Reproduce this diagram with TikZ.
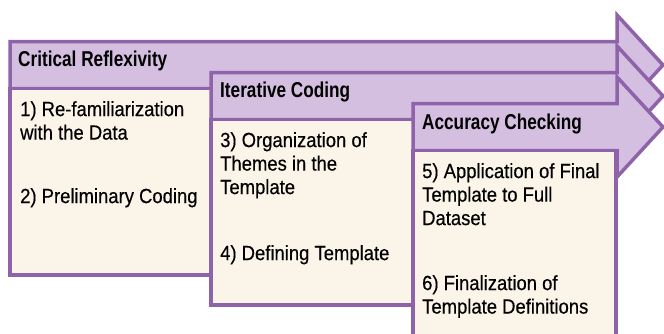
\documentclass[tikz,border=0pt]{standalone}
\usepackage{fontspec}
\setmainfont{Liberation Sans}[FakeStretch=0.9, FakeBold=0.4]
\newfontfamily\headfont{Liberation Sans}[FakeStretch=0.8]
\definecolor{stagepurple}{HTML}{8E63AA}
\definecolor{headlilac}{HTML}{D5BFE1}
\definecolor{notecream}{HTML}{FBF4E9}

\begin{document}
\begin{tikzpicture}[x=1pt, y=-1pt,
		stage/.style = {draw=stagepurple, fill=headlilac, line width=3.5pt, line join=miter},
		notes/.style = {draw=stagepurple, fill=notecream, line width=3.5pt},
		head/.style = {anchor=west, inner sep=0pt, font=\headfont\bfseries\fontsize{21.5}{24}\selectfont},
		item/.style = {anchor=north west, inner sep=0pt, align=left, font=\fontsize{20.5}{23.5}\selectfont}]
			\useasboundingbox (0,0) rectangle (664,333);

			% each stage: arrow on top, notes box under it
			\foreach \x/\c/\b in {10/65/275, 211/96/305, 413/127/345} {
				\draw[stage] (\x,\c-23.5) -- (617,\c-23.5) -- (617,\c-50) -- (663,\c)
					-- (617,\c+50) -- (617,\c+23.5) -- (\x,\c+23.5) -- cycle;
				\draw[notes] (\x,\c+23.5) rectangle (\x+203,\b);
			}

			\node[head] (reflex) at (18,61) {Critical Reflexivity};
			\node[head] (iter) at (220,92) {Iterative Coding};
			\node[head] (check) at (422,124) {Accuracy Checking};

			\node[item] (s1) at (20,101) {1) Re-familiarization\\with the Data};
			\node[item] (s2) at (20,188) {2) Preliminary Coding};
			\node[item] (s3) at (220,132) {3) Organization of\\Themes in the\\Template};
			\node[item] (s4) at (220,245) {4) Defining Template};
			\node[item] (s5) at (422,163) {5) Application of Final\\Template to Full\\Dataset};
			\node[item] (s6) at (422,275) {6) Finalization of\\Template Definitions};
		\end{tikzpicture}
\end{document}
